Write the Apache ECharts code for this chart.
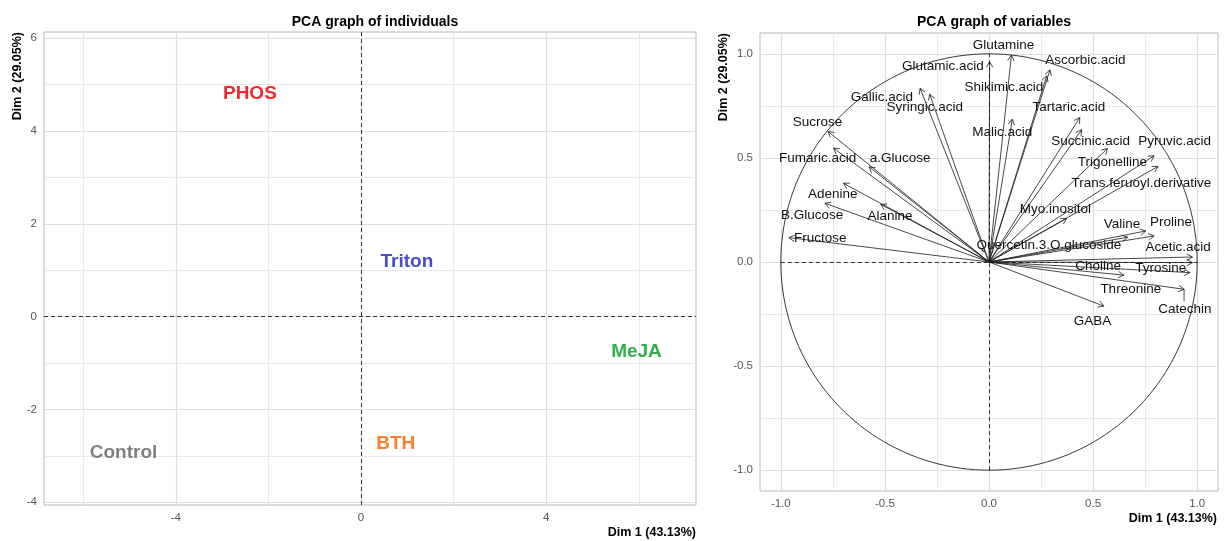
<!DOCTYPE html>
<html>
<head>
<meta charset="utf-8">
<script src="https://cdn.jsdelivr.net/npm/echarts@6/dist/echarts.min.js"></script>
<style>
  html, body { margin: 0; padding: 0; background: #fff; }
  #main { width: 1224px; height: 541px; }
</style>
</head>
<body>
<div id="main"></div>
<script>
// individuals plot: group labels
var groupNames = ['PHOS', 'Triton', 'MeJA', 'BTH', 'Control'];
var groupDim1 = [-2.40, 0.99, 5.95, 0.75, -5.13];
var groupDim2 = [4.80, 1.18, -0.75, -2.73, -2.93];
var groupColors = ['#EE2A30', '#4A4AD2', '#2EB04C', '#FF7F2A', '#808080'];

// variables plot: arrow tips
var varNames = ['Glutamine', 'Glutamic.acid', 'Ascorbic.acid', 'Shikimic.acid', 'Gallic.acid',
  'Syringic.acid', 'Tartaric.acid', 'Malic.acid', 'Succinic.acid', 'Pyruvic.acid', 'Trigonelline',
  'Trans.feruoyl.derivative', 'Sucrose', 'Fumaric.acid', 'a.Glucose', 'Adenine', 'B.Glucose',
  'Alanine', 'Fructose', 'Myo.inositol', 'Valine', 'Proline', 'Quercetin.3.O.glucoside',
  'Acetic.acid', 'Choline', 'Tyrosine', 'Threonine', 'Catechin', 'GABA'];
var varDim1 = [0.108, 0.003, 0.293, 0.277, -0.331, -0.285, 0.436, 0.112, 0.445, 0.793, 0.569,
  0.812, -0.773, -0.747, -0.576, -0.699, -0.788, -0.520, -0.961, 0.373, 0.753, 0.793, 0.666,
  0.977, 0.648, 0.977, 0.965, 0.937, 0.552];
var varDim2 = [0.994, 0.962, 0.923, 0.894, 0.834, 0.806, 0.694, 0.686, 0.635, 0.510, 0.545,
  0.459, 0.627, 0.547, 0.457, 0.378, 0.282, 0.277, 0.117, 0.209, 0.149, 0.125, 0.119,
  0.024, -0.063, -0.003, -0.051, -0.131, -0.212];
// repelled label positions
var labelDim1 = [0.070, -0.222, 0.463, 0.071, -0.515, -0.309, 0.384, 0.064, 0.488, 0.892, 0.593,
  0.732, -0.824, -0.823, -0.427, -0.751, -0.850, -0.476, -0.810, 0.319, 0.639, 0.874, 0.288,
  0.908, 0.524, 0.825, 0.681, 0.941, 0.497];
var labelDim2 = [1.043, 0.942, 0.970, 0.838, 0.793, 0.742, 0.742, 0.625, 0.582, 0.582, 0.478,
  0.377, 0.670, 0.497, 0.497, 0.325, 0.225, 0.218, 0.113, 0.253, 0.181, 0.189, 0.080,
  0.069, -0.022, -0.032, -0.131, -0.227, -0.284];
var linkedLabels = ['Catechin'];

// ticks and grid lines
var indXTicks = [-4, 0, 4];
var indXMinor = [-6, -2, 2, 6];
var indYTicks = [-4, -2, 0, 2, 4, 6];
var indYMinor = [-3, -1, 1, 3, 5];
var varTicks = [-1, -0.5, 0, 0.5, 1];
var varMinor = [-0.75, -0.25, 0.25, 0.75];

var FONT = '"Liberation Sans", Arial, sans-serif';
var myChart = echarts.init(document.getElementById('main'));

function gridLines(xs, ys, color, width) {
  var out = [];
  xs.forEach(function (v) { out.push({ xAxis: v, lineStyle: { color: color, width: width, type: 'solid' } }); });
  ys.forEach(function (v) { out.push({ yAxis: v, lineStyle: { color: color, width: width, type: 'solid' } }); });
  return out;
}

function axisLabelStyle(values, digits) {
  return {
    customValues: values,
    color: '#555',
    fontSize: 11.5,
    fontFamily: FONT,
    margin: 7,
    formatter: function (v) { return digits ? Number(v).toFixed(digits) : String(v); }
  };
}

var groupData = groupNames.map(function (n, i) { return [groupDim1[i], groupDim2[i], i]; });
var arrowData = varNames.map(function (n, i) {
  return [varDim1[i], varDim2[i], labelDim1[i], labelDim2[i], i];
});

var option = {
  animation: false,
  title: [
    { text: 'PCA graph of individuals', left: 370, top: 10, textAlign: 'center',
      textStyle: { fontSize: 14, fontWeight: 'bold', fontFamily: FONT, color: '#000' } },
    { text: 'PCA graph of variables', left: 989, top: 10, textAlign: 'center',
      textStyle: { fontSize: 14, fontWeight: 'bold', fontFamily: FONT, color: '#000' } }
  ],
  graphic: [
    { type: 'text', x: 696, y: 533, style: { text: 'Dim 1 (43.13%)', font: 'bold 12.5px ' + FONT, fill: '#000', align: 'right', verticalAlign: 'middle' } },
    { type: 'text', x: 1217, y: 519, style: { text: 'Dim 1 (43.13%)', font: 'bold 12.5px ' + FONT, fill: '#000', align: 'right', verticalAlign: 'middle' } },
    { type: 'text', x: 18, y: 32, rotation: Math.PI / 2, style: { text: 'Dim 2 (29.05%)', font: 'bold 12.5px ' + FONT, fill: '#000', align: 'right', verticalAlign: 'middle' } },
    { type: 'text', x: 724, y: 33, rotation: Math.PI / 2, style: { text: 'Dim 2 (29.05%)', font: 'bold 12.5px ' + FONT, fill: '#000', align: 'right', verticalAlign: 'middle' } }
  ],
  grid: [
    { left: 44, top: 32, width: 652, height: 473, show: true, borderColor: '#B8B8B8', borderWidth: 1 },
    { left: 760, top: 33, width: 458, height: 458, show: true, borderColor: '#B8B8B8', borderWidth: 1 }
  ],
  xAxis: [
    { type: 'value', gridIndex: 0, min: -6.847, max: 7.235, axisLine: { show: false },
      axisTick: { show: false }, splitLine: { show: false }, axisLabel: axisLabelStyle(indXTicks, 0) },
    { type: 'value', gridIndex: 1, min: -1.1, max: 1.1, axisLine: { show: false },
      axisTick: { show: false }, splitLine: { show: false }, axisLabel: axisLabelStyle(varTicks, 1) }
  ],
  yAxis: [
    { type: 'value', gridIndex: 0, min: -4.058, max: 6.136, axisLine: { show: false },
      axisTick: { show: false }, splitLine: { show: false }, axisLabel: axisLabelStyle(indYTicks, 0) },
    { type: 'value', gridIndex: 1, min: -1.1, max: 1.1, axisLine: { show: false },
      axisTick: { show: false }, splitLine: { show: false }, axisLabel: axisLabelStyle(varTicks, 1) }
  ],
  series: [
    // grid lines, individuals
    {
      type: 'scatter', xAxisIndex: 0, yAxisIndex: 0, data: [], z: 1, silent: true,
      markLine: {
        z: 1, silent: true, symbol: ['none', 'none'], label: { show: false },
        data: gridLines(indXMinor, indYMinor, '#E9E9E9', 1)
          .concat(gridLines(indXTicks, indYTicks, '#DEDEDE', 1.2))
          .concat([
            { xAxis: 0, lineStyle: { color: '#333', width: 1, type: [4, 3] } },
            { yAxis: 0, lineStyle: { color: '#333', width: 1, type: [4, 3] } }
          ])
      }
    },
    // grid lines, variables
    {
      type: 'scatter', xAxisIndex: 1, yAxisIndex: 1, data: [], z: 1, silent: true,
      markLine: {
        z: 1, silent: true, symbol: ['none', 'none'], label: { show: false },
        data: gridLines(varMinor, varMinor, '#E9E9E9', 1)
          .concat(gridLines(varTicks, varTicks, '#DEDEDE', 1.2))
          .concat([
            [{ coord: [-1, 0], lineStyle: { color: '#333', width: 1, type: [4, 3] } }, { coord: [1, 0] }],
            [{ coord: [0, -1], lineStyle: { color: '#333', width: 1, type: [4, 3] } }, { coord: [0, 1] }]
          ])
      }
    },
    // group labels
    {
      type: 'custom', xAxisIndex: 0, yAxisIndex: 0, data: groupData, z: 5,
      renderItem: function (params, api) {
        var p = api.coord([api.value(0), api.value(1)]);
        var i = api.value(2);
        return {
          type: 'text', x: p[0], y: p[1],
          style: { text: groupNames[i], font: 'bold 19px ' + FONT, fill: groupColors[i],
            stroke: null, lineWidth: 0, align: 'center', verticalAlign: 'middle' }
        };
      }
    },
    // correlation circle
    {
      type: 'custom', xAxisIndex: 1, yAxisIndex: 1, data: [[0, 0]], z: 3,
      renderItem: function (params, api) {
        var pts = [];
        for (var k = 0; k <= 180; k++) {
          var t = k / 180 * Math.PI * 2;
          pts.push(api.coord([Math.cos(t), Math.sin(t)]));
        }
        return { type: 'polyline', shape: { points: pts }, style: { stroke: '#222', lineWidth: 0.9, fill: null } };
      }
    },
    // arrows and labels
    {
      type: 'custom', xAxisIndex: 1, yAxisIndex: 1, data: arrowData, z: 4,
      renderItem: function (params, api) {
        var o = api.coord([0, 0]);
        var p = api.coord([api.value(0), api.value(1)]);
        var l = api.coord([api.value(2), api.value(3)]);
        var name = varNames[api.value(4)];
        var ang = Math.atan2(p[1] - o[1], p[0] - o[0]);
        var h = 6.5, a = Math.PI / 6;
        var stroke = { stroke: '#1a1a1a', lineWidth: 0.8, fill: null };
        var children = [
          { type: 'line', shape: { x1: o[0], y1: o[1], x2: p[0], y2: p[1] }, style: stroke },
          { type: 'polyline', shape: { points: [
            [p[0] - h * Math.cos(ang - a), p[1] - h * Math.sin(ang - a)], p,
            [p[0] - h * Math.cos(ang + a), p[1] - h * Math.sin(ang + a)]] }, style: stroke }
        ];
        if (linkedLabels.indexOf(name) >= 0) {
          children.push({ type: 'line', shape: { x1: p[0], y1: p[1], x2: p[0], y2: l[1] - 8 }, style: stroke });
        }
        children.push({
          type: 'text', x: l[0], y: l[1],
          style: { text: name, font: '13.5px ' + FONT, fill: '#111', stroke: null, lineWidth: 0,
            align: 'center', verticalAlign: 'middle' }
        });
        return { type: 'group', children: children };
      }
    }
  ]
};

myChart.setOption(option);
window.addEventListener('resize', function () { myChart.resize(); });
</script>
</body>
</html>
